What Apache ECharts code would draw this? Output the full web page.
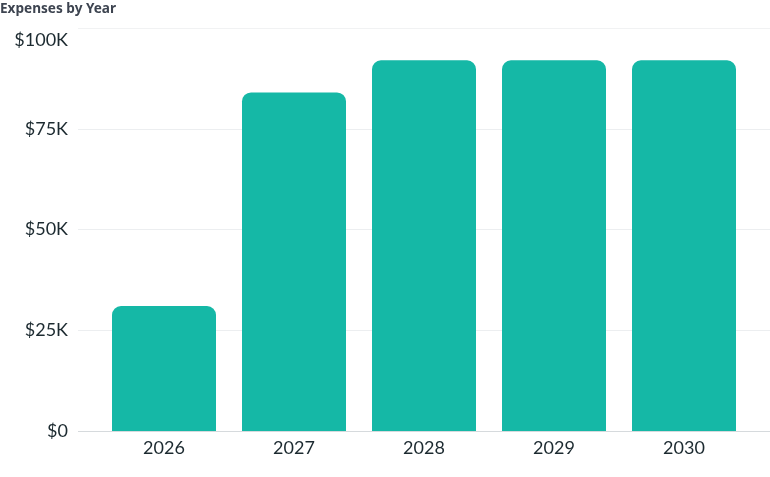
<!DOCTYPE html>
<html><head><meta charset="utf-8">
<script src="https://cdn.jsdelivr.net/npm/echarts@6/dist/echarts.min.js"></script>
<style>html,body{margin:0;padding:0;background:#fff}#c{width:770px;height:477px}</style>
</head><body><div id="c"></div>
<script>
const categories = ['2026', '2027', '2028', '2029', '2030'];
const expenses = [31000, 84000, 92000, 92000, 92000];
const yTicks = [0, 25000, 50000, 75000, 100000];

const chart = echarts.init(document.getElementById('c'), null, {renderer: 'canvas'});
const font = 'Lato, "Noto Sans", sans-serif';
const yMax = yTicks[yTicks.length - 1];
const fmt = v => {
  const s = v === 0 ? '$0' : '$' + (v / 1000) + 'K';
  return v === yMax ? '{top|' + s + '}' : s;
};
chart.setOption({
  animation: false,
  title: {
    text: 'Expenses by Year', left: 0, top: 2, padding: 0,
    textStyle: {fontFamily: '"Noto Sans", sans-serif', fontSize: 13.6, fontWeight: 'bold', color: '#3d4450'}
  },
  grid: [
    {left: 78, right: 0, top: 28, bottom: 46},
    {left: 99, right: 21, top: 28, bottom: 46}
  ],
  xAxis: [
    {gridIndex: 0, type: 'value', min: 0, max: 1, show: false},
    {gridIndex: 1, type: 'category', data: categories,
     axisLine: {show: false}, axisTick: {show: false},
     axisLabel: {fontFamily: font, fontSize: 18, color: '#1c2a30', margin: 8}}
  ],
  yAxis: [
    {gridIndex: 0, type: 'value', min: yTicks[0], max: yMax, interval: 25000,
     axisLabel: {formatter: fmt, fontFamily: font, fontSize: 18, color: '#1c2a30', margin: 10,
       rich: {top: {fontFamily: font, fontSize: 18, color: '#1c2a30', padding: [25, 0, 0, 0]}}},
     axisLine: {show: false}, axisTick: {show: false},
     splitLine: {lineStyle: {color: ['#d6dadd', '#eceef0', '#eceef0', '#eceef0', '#f1f2f3'], width: 1}}},
    {gridIndex: 1, type: 'value', min: yTicks[0], max: yMax, interval: 25000,
     show: false, splitLine: {show: false}}
  ],
  series: [{
    type: 'bar', xAxisIndex: 1, yAxisIndex: 1, data: expenses,
    barCategoryGap: '20%',
    itemStyle: {color: '#15b8a6', borderRadius: [9, 9, 0, 0]}
  }]
});
</script></body></html>
